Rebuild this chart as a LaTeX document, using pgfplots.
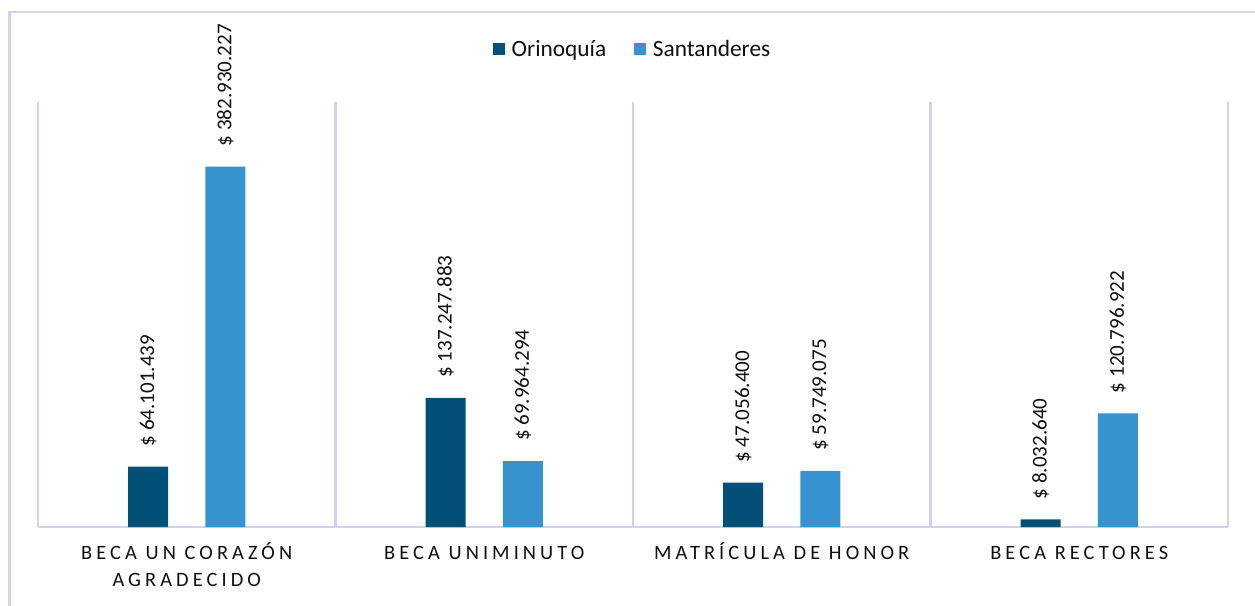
\documentclass[border=0pt]{standalone}
\usepackage{pgfplots}
\pgfplotsset{compat=1.18}
\usepackage{fontspec}
\setmainfont{Carlito}
\newfontfamily\catfam[LetterSpace=20]{Carlito}
\definecolor{orin}{RGB}{2,80,119}
\definecolor{sant}{RGB}{55,146,208}
\definecolor{lav}{RGB}{212,208,242}
\definecolor{txt}{RGB}{15,15,15}
\begin{document}
\begin{tikzpicture}
\useasboundingbox (-28.5pt,-59.25pt) rectangle (912.75pt,395.25pt);
\draw[lav, line width=1.6pt] (-21.4pt,-60pt) -- (-21.4pt,386.25pt) -- (914pt,386.25pt);
\begin{axis}[
  at={(0pt,0pt)}, anchor=south west,
  scale only axis, width=892.5pt, height=318.75pt,
  xmin=-0.5, xmax=3.5, ymin=0, ymax=451.6,
  clip=false,
  axis y line=none, axis x line*=bottom,
  axis line style={draw=lav, line width=1.6pt, -},
  xtick={0,1,2,3},
  xticklabels={{\vphantom{ÍÓ}BECA UN CORAZÓN\\AGRADECIDO},{\vphantom{ÍÓ}BECA UNIMINUTO},{\vphantom{ÍÓ}MATRÍCULA DE HONOR},{\vphantom{ÍÓ}BECA RECTORES}},
  major tick length=0pt, minor tick length=0pt,
  minor xtick={-0.5,0.5,1.5,2.5,3.5},
  xminorgrids, minor grid style={draw=lav, line width=1.6pt},
  x tick label style={font=\catfam\fontsize{15.3}{20.25}\selectfont, text=txt, align=center, anchor=north, inner sep=0pt, yshift=-11.5pt},
  point meta=explicit symbolic,
  nodes near coords={\$ \pgfplotspointmeta},
  every node near coord/.style={font=\fontsize{15.8}{18}\selectfont, text=txt, rotate=90, anchor=west, inner sep=0pt},
  legend style={at={(0.5,1)}, anchor=center, yshift=39.75pt, draw=none, fill=none,
    legend columns=2, font=\fontsize{17.5}{20}\selectfont, text=txt,
    /tikz/every even column/.append style={column sep=19pt}},
  legend image code/.code={\fill[#1] (0pt,-4.5pt) rectangle (9pt,4.5pt); \path (12pt,0pt);},
]
\addplot[ybar, bar width=30pt, bar shift=-29pt, fill=orin, draw=none,
  every node near coord/.append style={xshift=15pt, yshift=29pt}]
  coordinates {(0,64.101439) [64.101.439] (1,137.247883) [137.247.883] (2,47.0564) [47.056.400] (3,8.03264) [8.032.640]};
\addlegendentry{Orinoquía}
\addplot[ybar, bar width=30pt, bar shift=29pt, fill=sant, draw=none,
  every node near coord/.append style={xshift=15pt, yshift=-29pt}]
  coordinates {(0,382.930227) [382.930.227] (1,69.964294) [69.964.294] (2,59.749075) [59.749.075] (3,120.796922) [120.796.922]};
\addlegendentry{Santanderes}
\end{axis}
\end{tikzpicture}
\end{document}
